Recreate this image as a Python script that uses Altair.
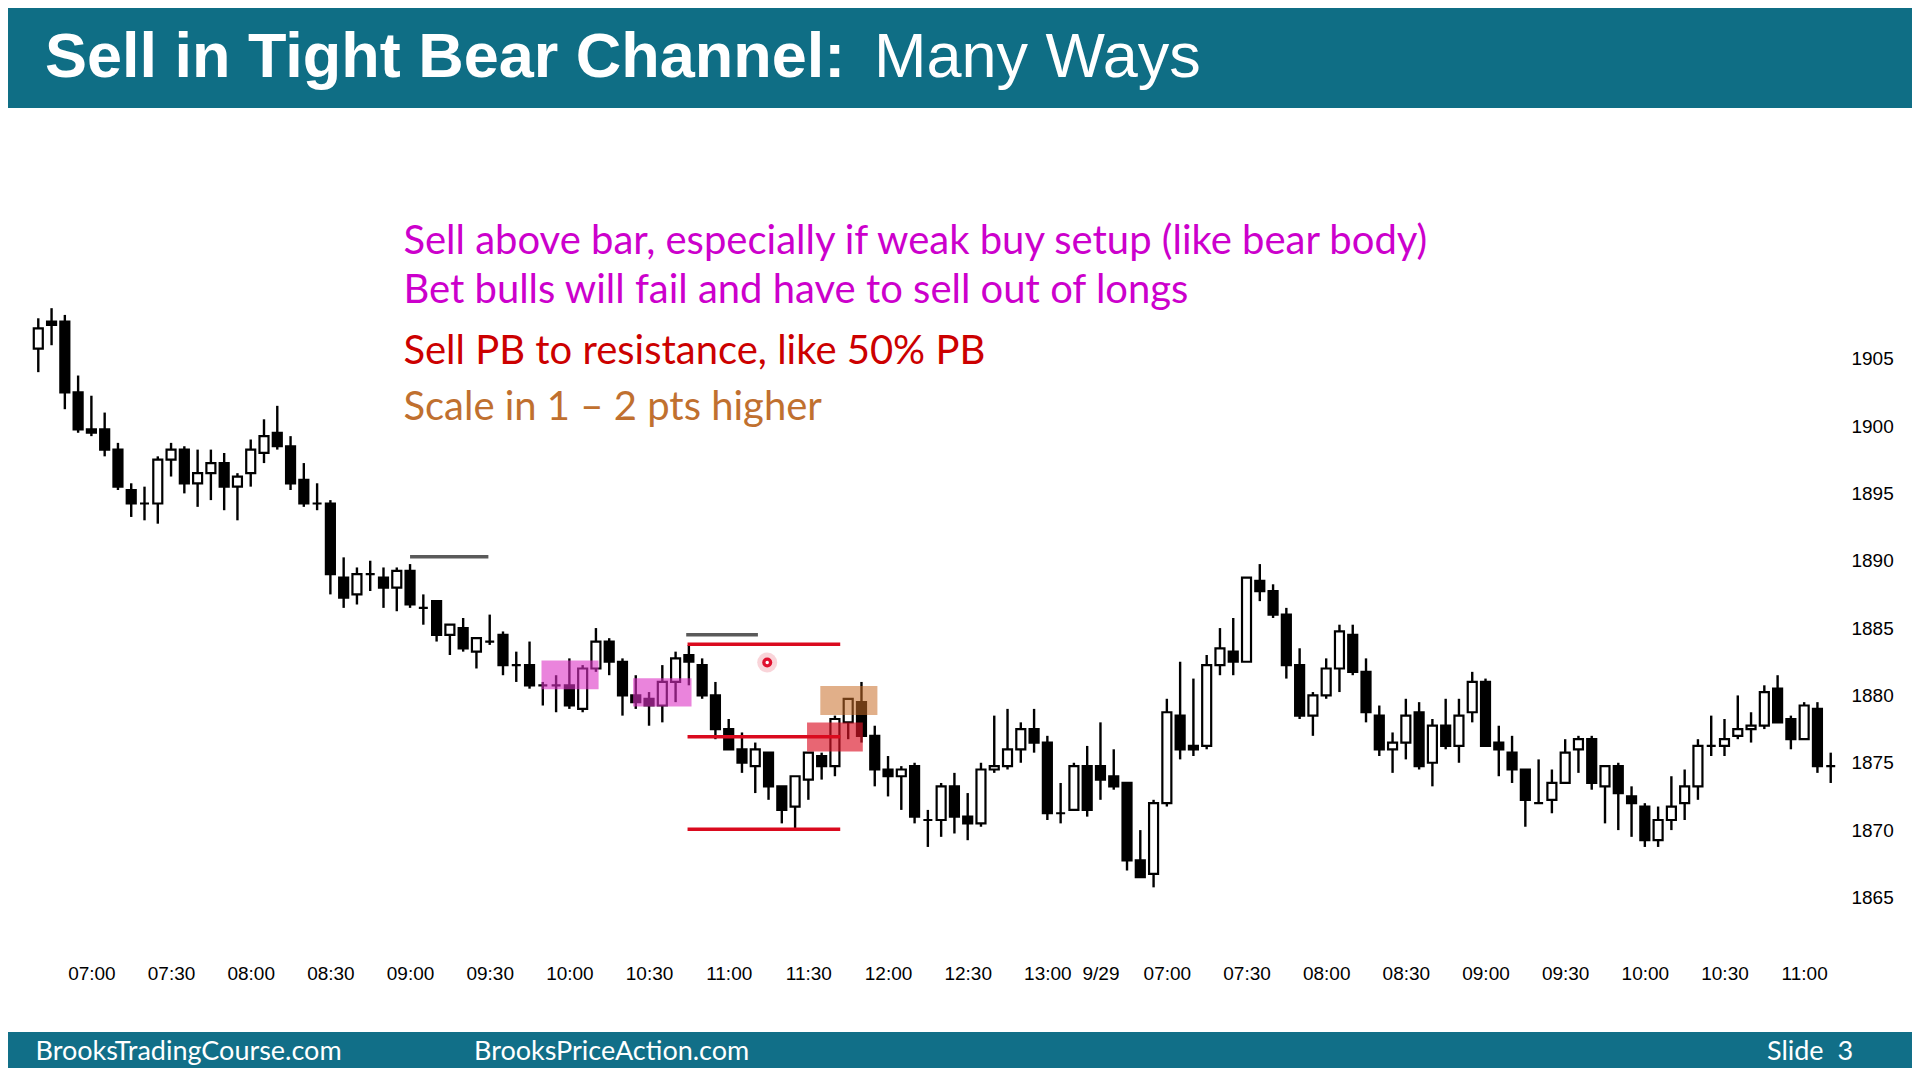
import altair as alt
import pandas as pd
import numpy as np

# ---------------- data (5-minute bars) ----------------
OPEN = [1905.75, 1907.75, 1907.75, 1902.5, 1899.75, 1899.75, 1898.25, 1895.25, 1894.25, 1894.25,
        1897.5, 1898.25, 1895.75, 1896.5, 1897.25, 1895.5, 1896.5, 1898.0, 1899.5, 1898.5,
        1896.0, 1894.25, 1894.25, 1888.75, 1887.5, 1889.0, 1888.75, 1888.0, 1889.25, 1886.5,
        1887.0, 1884.5, 1885.0, 1883.25, 1884.0, 1884.5, 1882.25, 1882.25, 1880.75, 1880.75,
        1880.75, 1879.0, 1882.0, 1884.0, 1882.5, 1880.0, 1879.75, 1879.25, 1881.0, 1883.0,
        1882.25, 1880.0, 1877.5, 1876.0, 1874.75, 1875.75, 1873.25, 1871.75, 1873.75, 1875.5,
        1874.75, 1878.0, 1879.5, 1877.0, 1874.5, 1874.0, 1874.75, 1870.75, 1870.75, 1873.25,
        1871.0, 1870.5, 1874.5, 1874.75, 1876.0, 1877.5, 1876.5, 1871.25, 1871.5, 1874.75,
        1874.75, 1874.0, 1873.5, 1867.75, 1866.75, 1872.0, 1878.5, 1876.25, 1876.25, 1882.25,
        1883.25, 1882.5, 1888.5, 1887.75, 1886.0, 1882.25, 1878.5, 1880.0, 1882.0, 1884.5,
        1881.75, 1878.5, 1876.0, 1876.5, 1878.75, 1875.0, 1877.75, 1876.25, 1878.75, 1881.0,
        1876.5, 1875.75, 1874.5, 1872.0, 1872.25, 1873.5, 1876.0, 1876.75, 1873.25, 1874.75,
        1872.5, 1871.75, 1869.25, 1870.75, 1872.0, 1873.25, 1876.25, 1876.25, 1877.0, 1877.5,
        1877.75, 1880.5, 1878.25, 1876.75, 1879.0, 1874.75]
HIGH = [1908.0, 1908.75, 1908.25, 1903.75, 1902.25, 1901.0, 1898.75, 1895.75, 1895.5, 1897.75,
        1898.75, 1898.5, 1898.25, 1898.25, 1898.0, 1896.5, 1899.0, 1900.5, 1901.5, 1899.25,
        1897.25, 1895.75, 1894.5, 1890.25, 1889.5, 1890.0, 1889.5, 1889.5, 1889.75, 1887.5,
        1887.0, 1885.25, 1885.75, 1884.25, 1886.0, 1884.75, 1883.25, 1884.0, 1881.0, 1881.5,
        1882.75, 1882.25, 1885.0, 1884.25, 1882.75, 1881.5, 1880.25, 1882.25, 1883.25, 1883.75,
        1882.75, 1881.0, 1878.25, 1877.25, 1876.5, 1875.75, 1873.25, 1874.0, 1875.75, 1875.75,
        1878.5, 1879.75, 1881.0, 1877.75, 1875.5, 1874.75, 1875.0, 1871.5, 1873.5, 1874.25,
        1872.75, 1875.0, 1878.5, 1879.0, 1878.0, 1879.0, 1877.0, 1873.5, 1875.0, 1876.25,
        1878.0, 1876.0, 1873.5, 1870.0, 1872.25, 1879.75, 1882.5, 1881.25, 1883.0, 1885.0,
        1885.75, 1888.75, 1889.75, 1888.25, 1886.5, 1883.5, 1880.25, 1882.75, 1885.25, 1885.25,
        1882.75, 1879.25, 1877.25, 1879.75, 1879.5, 1878.25, 1879.75, 1879.75, 1881.75, 1881.25,
        1877.75, 1877.0, 1874.5, 1875.25, 1874.5, 1876.75, 1877.0, 1877.0, 1874.75, 1875.0,
        1873.25, 1872.0, 1871.75, 1874.0, 1874.5, 1876.75, 1878.5, 1878.25, 1880.0, 1878.75,
        1880.75, 1881.5, 1878.5, 1879.5, 1879.5, 1875.75]
LOW = [1904.0, 1906.0, 1901.25, 1899.5, 1899.25, 1897.75, 1895.25, 1893.25, 1893.0, 1892.75,
       1896.25, 1895.0, 1894.0, 1894.5, 1893.75, 1893.0, 1895.5, 1897.25, 1898.25, 1895.25,
       1894.0, 1893.75, 1887.5, 1886.5, 1886.75, 1887.75, 1886.5, 1886.25, 1886.5, 1885.25,
       1884.0, 1883.0, 1883.25, 1882.0, 1883.75, 1881.5, 1881.0, 1880.5, 1879.25, 1878.75,
       1879.0, 1878.75, 1881.75, 1881.5, 1878.5, 1879.0, 1877.75, 1878.0, 1879.5, 1880.75,
       1879.75, 1876.75, 1876.0, 1874.25, 1872.75, 1872.25, 1870.5, 1870.0, 1872.25, 1873.75,
       1874.0, 1876.75, 1876.5, 1873.25, 1872.5, 1871.5, 1870.5, 1868.75, 1869.5, 1869.75,
       1869.25, 1870.25, 1874.25, 1874.5, 1875.0, 1875.75, 1870.75, 1870.5, 1871.5, 1871.0,
       1872.25, 1873.0, 1867.0, 1866.5, 1865.75, 1871.75, 1875.25, 1875.5, 1876.0, 1881.5,
       1881.5, 1882.5, 1887.0, 1885.75, 1881.25, 1878.25, 1877.0, 1879.75, 1880.25, 1881.5,
       1878.0, 1875.5, 1874.25, 1875.25, 1874.5, 1873.25, 1876.0, 1875.0, 1878.0, 1876.25,
       1874.0, 1873.5, 1870.25, 1872.0, 1871.25, 1873.5, 1874.25, 1873.0, 1870.5, 1870.0,
       1869.5, 1868.75, 1868.75, 1870.0, 1870.75, 1872.25, 1875.5, 1875.5, 1876.75, 1876.5,
       1877.5, 1878.0, 1876.0, 1876.75, 1874.25, 1873.5]
CLOSE = [1907.25, 1907.5, 1902.5, 1899.75, 1899.5, 1898.25, 1895.5, 1894.25, 1894.25, 1897.5,
         1898.25, 1895.75, 1896.5, 1897.25, 1895.5, 1896.25, 1898.25, 1899.25, 1898.5, 1895.75,
         1894.25, 1894.25, 1889.0, 1887.25, 1889.0, 1889.0, 1888.0, 1889.25, 1886.75, 1886.5,
         1884.5, 1885.25, 1883.5, 1884.25, 1884.0, 1882.25, 1882.25, 1880.75, 1880.75, 1880.75,
         1879.25, 1882.0, 1884.0, 1882.5, 1880.0, 1879.5, 1879.25, 1881.0, 1882.75, 1882.5,
         1880.0, 1877.5, 1876.0, 1875.0, 1876.0, 1873.25, 1871.5, 1874.0, 1875.75, 1874.75,
         1878.25, 1879.75, 1877.0, 1874.5, 1874.0, 1874.5, 1871.0, 1870.75, 1873.25, 1871.0,
         1870.5, 1874.5, 1874.75, 1876.0, 1877.5, 1876.5, 1871.25, 1871.25, 1874.75, 1871.5,
         1873.75, 1873.25, 1867.75, 1866.5, 1872.0, 1878.75, 1876.0, 1876.0, 1882.25, 1883.5,
         1882.5, 1888.75, 1887.75, 1886.0, 1882.25, 1878.5, 1880.0, 1882.0, 1884.75, 1881.75,
         1878.75, 1876.0, 1876.5, 1878.5, 1874.75, 1877.75, 1876.25, 1878.5, 1881.0, 1876.25,
         1876.0, 1874.5, 1872.25, 1872.0, 1873.5, 1875.75, 1876.75, 1873.5, 1874.75, 1872.75,
         1872.0, 1869.25, 1870.75, 1871.75, 1873.25, 1876.25, 1876.25, 1876.75, 1877.5, 1877.75,
         1880.25, 1878.0, 1876.75, 1879.25, 1874.75, 1874.75]

# time-axis ticks (bar index -> label)
TICK_POS = [4, 10, 16, 22, 28, 34, 40, 46, 52, 58, 64, 70, 76, 80,
            85, 91, 97, 103, 109, 115, 121, 127, 133]
TICK_LABELS = ["07:00", "07:30", "08:00", "08:30", "09:00", "09:30", "10:00", "10:30",
               "11:00", "11:30", "12:00", "12:30", "13:00", "9/29",
               "07:00", "07:30", "08:00", "08:30", "09:00", "09:30", "10:00", "10:30", "11:00"]
PRICE_TICKS = [1865, 1870, 1875, 1880, 1885, 1890, 1895, 1900, 1905]

# annotation geometry (bar index / price)
GRAY_X1 = [28.0, 48.8]
GRAY_X2 = [33.9, 54.2]
GRAY_Y = [1890.3, 1884.5]
RED_X1 = [48.9, 48.9, 48.9]
RED_X2 = [60.4, 60.4, 60.4]
RED_Y = [1883.8, 1876.94, 1870.06]
BOX_X1 = [37.9, 44.8, 57.9, 58.9]
BOX_X2 = [42.2, 49.2, 62.1, 63.2]
BOX_Y1 = [1880.46, 1879.17, 1875.83, 1878.55]
BOX_Y2 = [1882.59, 1881.27, 1877.98, 1880.7]
BOX_COLOR = ["#DC32C4", "#DC32C4", "#DC1428", "#C86E28"]
BOX_OPACITY = [0.6, 0.6, 0.65, 0.55]
DOT_X = [54.9]
DOT_Y = [1882.44]

NOTE_TEXT = ["Sell above bar, especially if weak buy setup (like bear body)",
             "Bet bulls will fail and have to sell out of longs",
             "Sell PB to resistance, like 50% PB",
             "Scale in 1 \u2013 2 pts higher"]
NOTE_COLOR = ["#CC00CC", "#CC00CC", "#CC0000", "#C0702F"]
NOTE_X = [27.5, 27.5, 27.5, 27.5]
NOTE_Y = [1912.75, 1909.1, 1904.57, 1900.43]

TITLE_BOLD = "Sell in Tight Bear Channel:"
TITLE_REG = "Many Ways"
FOOTER_TEXT = ["BrooksTradingCourse.com", "BrooksPriceAction.com", "Slide \u00a03"]

# ---------------- build ----------------
TEAL = "#0F6E85"
bars = pd.DataFrame({"i": np.arange(len(OPEN)), "o": OPEN, "h": HIGH, "l": LOW, "c": CLOSE})
bars["fillc"] = np.where(bars.c > bars.o, "white", "black")

xs = alt.Scale(domain=[-1, 136], nice=False, zero=False)
ys = alt.Scale(domain=[1863, 1915], nice=False, zero=False)

lbl_expr = ("[" + ",".join(f"'{s}'" for s in TICK_LABELS) + "][indexof(["
            + ",".join(str(v) for v in TICK_POS) + "], datum.value)]")

x_axis = alt.Axis(values=TICK_POS, labelExpr=lbl_expr, domain=False, ticks=False, grid=False,
                  title=None, labelFont="Liberation Sans", labelFontSize=19, labelColor="black",
                  labelPadding=49, labelBaseline="middle", labelFlush=False, labelOverlap=False)
y_axis = alt.Axis(values=PRICE_TICKS, orient="right", format="d", domain=False, ticks=False,
                  grid=False, title=None, labelFont="Liberation Sans", labelFontSize=19,
                  labelColor="black", labelPadding=2, labelAlign="left", labelBaseline="middle",
                  labelFlush=False, labelOverlap=False)


def X(field):
    return alt.X(field, scale=xs, axis=x_axis)


def Y(field):
    return alt.Y(field, scale=ys, axis=y_axis)


base = alt.Chart(bars)
wicks = base.mark_rule(color="black", strokeWidth=2.4).encode(
    x=X("i:Q"), y=Y("l:Q"), y2="h:Q")
bodies = base.mark_bar(size=9, stroke="black", strokeWidth=2.2).encode(
    x=X("i:Q"), y=Y("o:Q"), y2="c:Q", fill=alt.Fill("fillc:N", scale=None))

boxes_df = pd.DataFrame({"x1": BOX_X1, "x2": BOX_X2, "y1": BOX_Y1, "y2": BOX_Y2,
                         "col": BOX_COLOR, "op": BOX_OPACITY})
boxes = alt.Chart(boxes_df).mark_rect().encode(
    x=X("x1:Q"), x2="x2:Q", y=Y("y1:Q"), y2="y2:Q",
    fill=alt.Fill("col:N", scale=None), opacity=alt.Opacity("op:Q", scale=None))

gray_df = pd.DataFrame({"x1": GRAY_X1, "x2": GRAY_X2, "y": GRAY_Y})
gray = alt.Chart(gray_df).mark_rule(color="#5A5A5A", strokeWidth=3.5).encode(
    x=X("x1:Q"), x2="x2:Q", y=Y("y:Q"))
red_df = pd.DataFrame({"x1": RED_X1, "x2": RED_X2, "y": RED_Y})
red = alt.Chart(red_df).mark_rule(color="#DA0A1E", strokeWidth=3.5).encode(
    x=X("x1:Q"), x2="x2:Q", y=Y("y:Q"))

dot_df = pd.DataFrame({"x": DOT_X, "y": DOT_Y})
dot_halo = alt.Chart(dot_df).mark_point(filled=True, shape="circle", size=400, color="#F2A0AA",
                                        opacity=0.45).encode(x=X("x:Q"), y=Y("y:Q"))
dot_red = alt.Chart(dot_df).mark_point(filled=True, shape="circle", size=100, color="#E0102E",
                                       opacity=1).encode(x=X("x:Q"), y=Y("y:Q"))
dot_in = alt.Chart(dot_df).mark_point(filled=True, shape="circle", size=12, color="white",
                                      opacity=1).encode(x=X("x:Q"), y=Y("y:Q"))

notes_df = pd.DataFrame({"t": NOTE_TEXT, "col": NOTE_COLOR, "x": NOTE_X, "y": NOTE_Y})
notes = alt.Chart(notes_df).mark_text(font="Lato", fontSize=40, align="left",
                                      baseline="alphabetic").encode(
    x=X("x:Q"), y=Y("y:Q"), text="t:N", color=alt.Color("col:N", scale=None))

one = pd.DataFrame({"a": [0]})
title_bar = alt.Chart(one).mark_rect(color=TEAL).encode(
    x=alt.value(-12), x2=alt.value(1892), y=alt.value(-216), y2=alt.value(-116))
footer_bar = alt.Chart(one).mark_rect(color="#116F88").encode(
    x=alt.value(-12), x2=alt.value(1892), y=alt.value(808), y2=alt.value(845))
t_bold = alt.Chart(one).mark_text(font="Liberation Sans", fontWeight="bold", fontSize=63,
                                  color="white", align="left", baseline="alphabetic").encode(
    x=alt.value(25), y=alt.value(-147), text=alt.value(TITLE_BOLD))
t_reg = alt.Chart(one).mark_text(font="Liberation Sans", fontSize=63, color="white",
                                 align="left", baseline="alphabetic").encode(
    x=alt.value(854), y=alt.value(-147), text=alt.value(TITLE_REG))
foot_layers = []
for txt, px in zip(FOOTER_TEXT, [15.5, 454, 1747]):
    foot_layers.append(alt.Chart(one).mark_text(font="Lato", fontSize=27, color="white",
                                                align="left", baseline="middle").encode(
        x=alt.value(px), y=alt.value(828.5), text=alt.value(txt)))

chart = alt.layer(
    wicks, bodies, boxes, gray, red, dot_halo, dot_red, dot_in, notes,
    title_bar, footer_bar, t_bold, t_reg, *foot_layers,
).properties(
    width=1829, height=700.4,
    padding={"left": 12, "top": 216, "right": 63, "bottom": 144},
    autosize=alt.AutoSizeParams(type="none"),
    background="white",
).configure_view(stroke=None)

chart.save("out.html", embed_options={"renderer": "svg", "actions": False})
